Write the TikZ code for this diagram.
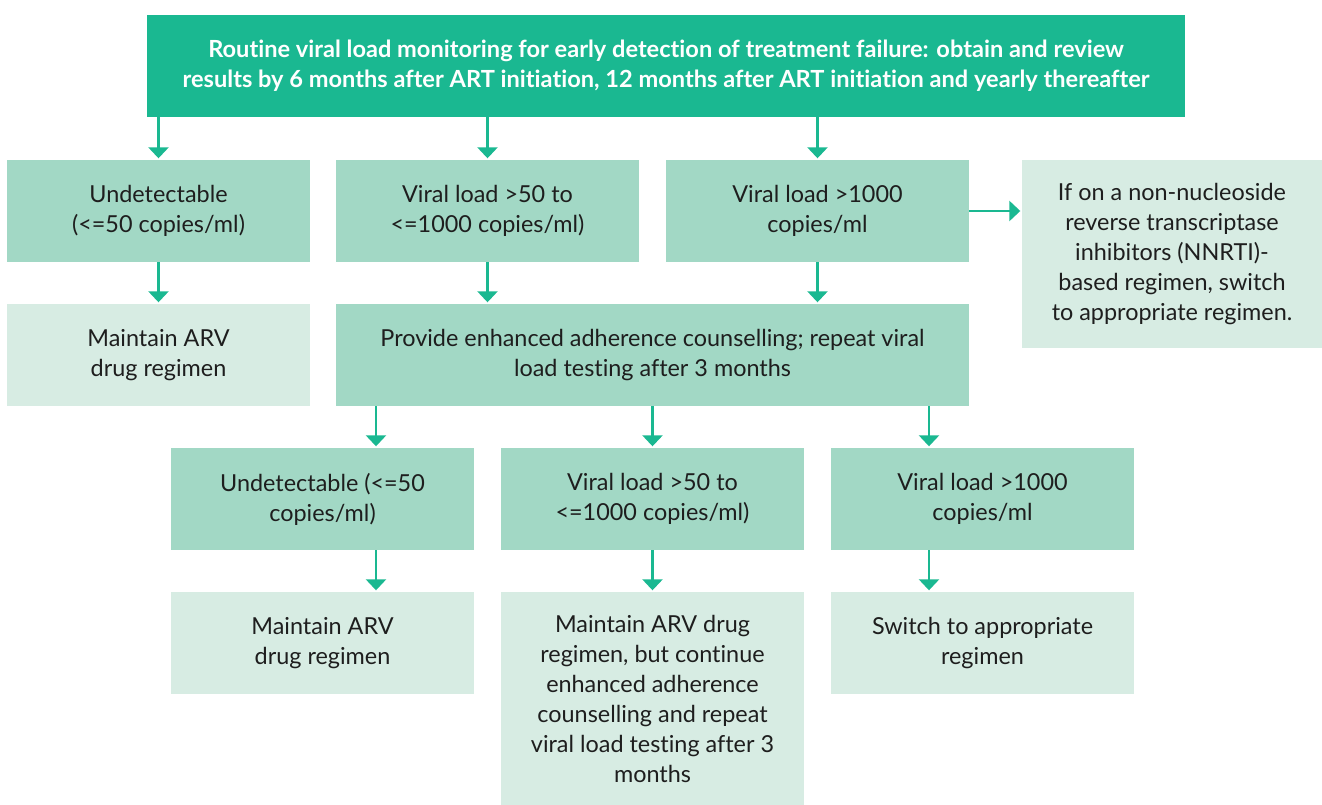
\documentclass[tikz,border=0pt]{standalone}
\usepackage{fontspec}
\setmainfont{Lato}[RawFeature=-liga]
\usetikzlibrary{arrows.meta}
\definecolor{dk}{HTML}{1AB891}
\definecolor{md}{HTML}{A2D8C5}
\definecolor{lt}{HTML}{D7ECE3}
\definecolor{tx}{HTML}{1E1E1E}
\tikzset{
  box/.style={draw=none, inner sep=0pt, align=center, text=tx,
    font=\fontsize{23.4}{30}\selectfont, minimum width=303pt, minimum height=102pt},
  mbox/.style={box, fill=md},
  lbox/.style={box, fill=lt},
  arr/.style={draw=dk, line width=2.5pt, -{Triangle[width=20pt,length=11pt]}, shorten >=1.5pt},
}
\begin{document}
\begin{tikzpicture}[x=1pt,y=-1pt]
\useasboundingbox (0,0) rectangle (1322,805);
\node[box, fill=dk, text=white, minimum width=1038pt, font=\fontsize{23.6}{30}\selectfont\bfseries] (top) at (666,66)
  {Routine viral load monitoring for early detection of treatment failure: obtain and review\\results by 6 months after ART initiation, 12 months after ART initiation and yearly thereafter};
\node[mbox] (a) at (158.5,211) {Undetectable\\(<=50 copies/ml)};
\node[mbox] (b) at (487.5,211) {Viral load >50 to\\<=1000 copies/ml)};
\node[mbox] (c) at (817.5,211) {Viral load >1000\\copies/ml};
\node[lbox, minimum width=300pt, minimum height=188pt] (d) at (1172,254)
  {If on a non-nucleoside\\reverse transcriptase\\inhibitors (NNRTI)-\\based regimen, switch\\to appropriate regimen.};
\node[lbox] (m1) at (158.5,355) {Maintain ARV\\drug regimen};
\node[mbox, minimum width=633pt] (enh) at (652.5,355) {Provide enhanced adherence counselling; repeat viral\\load testing after 3 months};
\node[mbox] (e) at (322.5,499) {Undetectable (<=50\\copies/ml)};
\node[mbox] (f) at (652.5,499) {Viral load >50 to\\<=1000 copies/ml)};
\node[mbox] (g) at (982.5,499) {Viral load >1000\\copies/ml};
\node[lbox] (h) at (322.5,643) {Maintain ARV\\drug regimen};
\node[lbox, minimum height=213pt] (i) at (652.5,698.5) {Maintain ARV drug\\regimen, but continue\\enhanced adherence\\counselling and repeat\\viral load testing after 3\\months};
\node[lbox] (j) at (982.5,643) {Switch to appropriate\\regimen};
% arrows
\foreach \n in {a,b,c} \draw[arr] (top.south -| \n.north) -- (\n.north);
\draw[arr] (a.south) -- (m1.north);
\draw[arr] (b.south) -- (b.south |- enh.north);
\draw[arr] (c.south) -- (c.south |- enh.north);
\draw[arr] (c.east) -- (d.west |- c.east);
\draw[arr] ([xshift=53.5pt]e.north |- enh.south) -- ([xshift=53.5pt]e.north);
\draw[arr] (enh.south -| f.north) -- (f.north);
\draw[arr] ([xshift=-53.5pt]g.north |- enh.south) -- ([xshift=-53.5pt]g.north);
\draw[arr] ([xshift=53.5pt]e.south) -- ([xshift=53.5pt]h.north);
\draw[arr] (f.south) -- (i.north);
\draw[arr] ([xshift=-53.5pt]g.south) -- ([xshift=-53.5pt]j.north);
\end{tikzpicture}
\end{document}
